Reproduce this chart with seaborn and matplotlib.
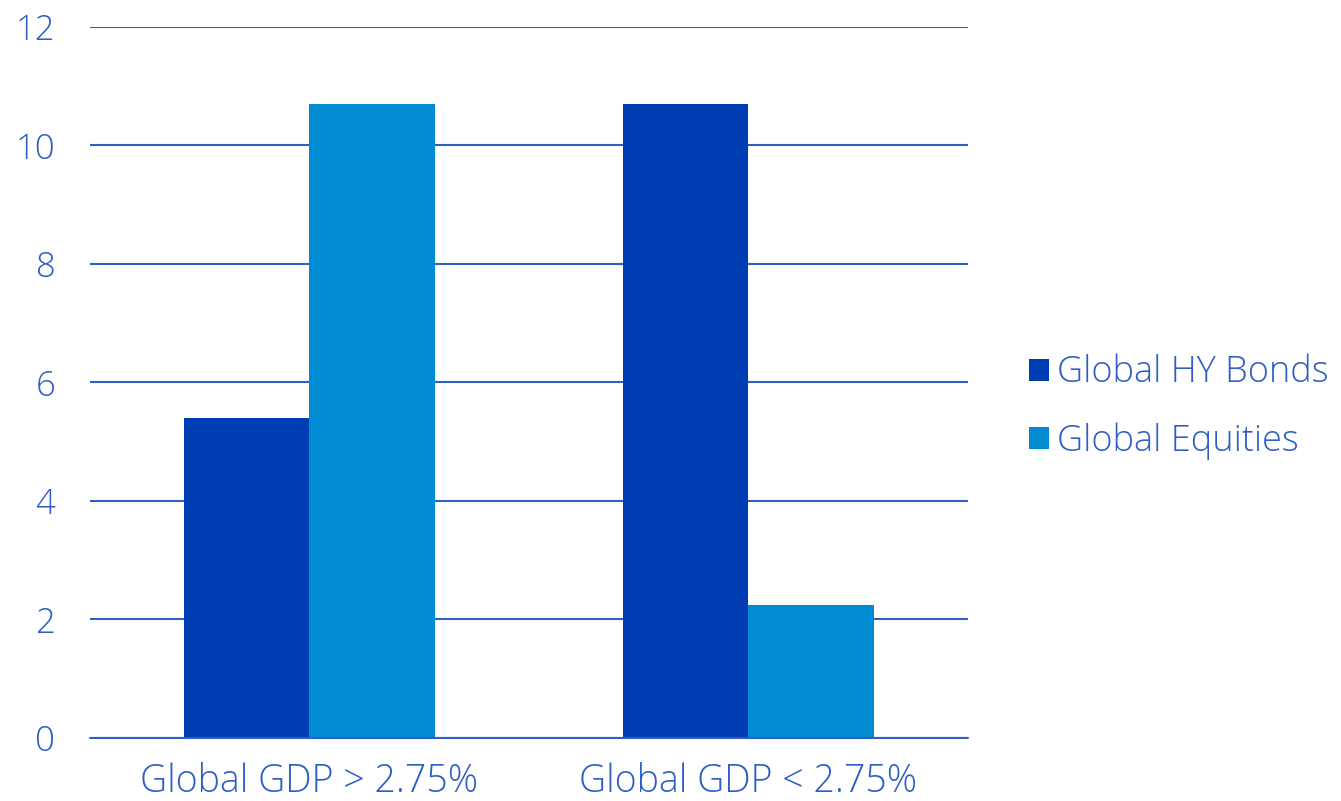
import matplotlib
matplotlib.use("Agg")
import matplotlib.pyplot as plt
import seaborn as sns
import pandas as pd
from matplotlib.patches import Patch

categories = ["Global GDP > 2.75%", "Global GDP < 2.75%"]
series_names = ["Global HY Bonds", "Global Equities"]
hy_bonds = [5.4, 10.7]
equities = [10.7, 2.25]
y_ticks = [0, 2, 4, 6, 8, 10, 12]

dark = "#003DB2"
light = "#008BD2"
text_col = "#2F5FC4"
grid_col = "#2F5FC4"

df = pd.DataFrame({
    "category": categories * 2,
    "series": [series_names[0]] * 2 + [series_names[1]] * 2,
    "value": hy_bonds + equities,
})

sns.set_theme(style="white")
plt.rcParams["font.family"] = ["Open Sans", "DejaVu Sans"]

fig = plt.figure(figsize=(13.41, 8.01), dpi=100)
ax = fig.add_axes([0.0671, 0.0787, 0.7218 - 0.0671, 0.9663 - 0.0787])

sns.barplot(data=df, x="category", y="value", hue="series", order=categories,
            hue_order=series_names, palette=[dark, light], width=0.57,
            gap=0, saturation=1, ax=ax, legend=False, linewidth=0)

ax.set_xlim(-0.5, 1.5)
ax.set_ylim(0, 12)
ax.set_yticks(y_ticks)
ax.set_yticklabels([str(t) for t in y_ticks])
ax.set_xlabel("")
ax.set_ylabel("")
for s in ax.spines.values():
    s.set_visible(False)
ax.set_axisbelow(True)
ax.yaxis.grid(True, color=grid_col, linewidth=1.5)
ax.axhline(0, color=grid_col, linewidth=1.5, zorder=3, clip_on=False)
ax.tick_params(axis="y", length=0, pad=25, labelsize=25, labelcolor=text_col)
ax.tick_params(axis="x", length=0, pad=18, labelsize=27, labelcolor=text_col)
for lab in ax.get_yticklabels() + ax.get_xticklabels():
    lab.set_fontweight("light")

handles = [Patch(facecolor=dark, edgecolor="none"), Patch(facecolor=light, edgecolor="none")]
leg = fig.legend(handles, series_names, loc="center left",
                 bbox_to_anchor=(0.767, 0.492), frameon=False,
                 fontsize=26, handlelength=0.56, handleheight=0.56,
                 handletextpad=0.22, labelspacing=0.85, borderpad=0,
                 borderaxespad=0)
for t in leg.get_texts():
    t.set_color(text_col)
    t.set_fontweight("light")

fig.savefig("out.png", dpi=100)
